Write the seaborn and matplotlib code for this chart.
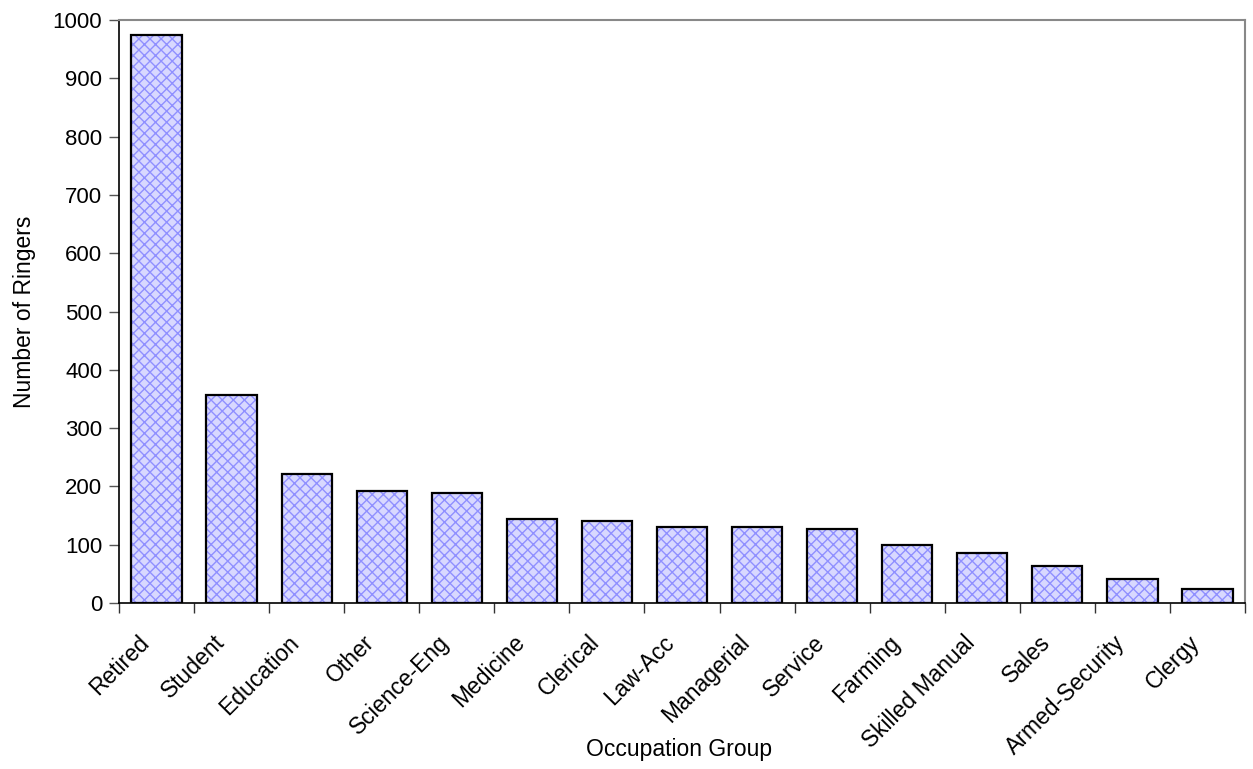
import matplotlib
matplotlib.use("Agg")
import matplotlib.pyplot as plt
import matplotlib.transforms as mtransforms
import seaborn as sns

# Occupation groups and ringer counts
occupations = ["Retired", "Student", "Education", "Other", "Science-Eng",
               "Medicine", "Clerical", "Law-Acc", "Managerial", "Service",
               "Farming", "Skilled Manual", "Sales", "Armed-Security", "Clergy"]
ringers = [975, 356, 222, 192, 188, 144, 140, 131, 130, 127, 99, 86, 63, 41, 24]
y_ticks = [0, 100, 200, 300, 400, 500, 600, 700, 800, 900, 1000]

sns.set_style("white")
plt.rcParams["font.family"] = ["Liberation Sans", "DejaVu Sans"]
plt.rcParams["hatch.linewidth"] = 1.0
plt.rcParams["text.color"] = "black"
plt.rcParams["axes.labelcolor"] = "black"
plt.rcParams["xtick.labelcolor"] = "black"
plt.rcParams["ytick.labelcolor"] = "black"

fig = plt.figure(figsize=(12.53, 7.69), dpi=100)
ax = fig.add_axes([0.095, 0.2159, 0.8986, 0.758])

# hatched fill
sns.barplot(x=occupations, y=ringers, ax=ax, width=0.67,
            color="#d8d8ff", edgecolor="#9090ff", linewidth=0,
            hatch="xxx", saturation=1)
# black outlines
sns.barplot(x=occupations, y=ringers, ax=ax, width=0.67,
            color="black", fill=False, linewidth=1.6, saturation=1)

ax.set_ylim(0, 1000)
ax.set_xlim(-0.5, len(occupations) - 0.5)
ax.set_yticks(y_ticks)
ax.set_yticklabels([str(v) for v in y_ticks], fontsize=16)

# category ticks sit between the bars
ax.set_xticks([i + 0.5 for i in range(-1, len(occupations))], minor=False)
ax.set_xticklabels([])
ax.set_xticks(range(len(occupations)), minor=True)
ax.set_xticklabels(occupations, minor=True, rotation=45, ha="right",
                   rotation_mode="anchor", fontsize=16.5)
ax.tick_params(axis="x", which="minor", length=0, pad=10)
ax.tick_params(axis="x", which="major", length=7, width=1, color="#333333",
               direction="out", bottom=True)
ax.tick_params(axis="y", length=7, width=1, color="#555555",
               direction="out", left=True, pad=5)

# nudge the slanted category labels down and to the left
shift = mtransforms.ScaledTranslation(-0.19, -0.14, fig.dpi_scale_trans)
for lbl in ax.get_xticklabels(minor=True):
    lbl.set_transform(lbl.get_transform() + shift)

for side in ["left", "bottom"]:
    ax.spines[side].set_color("black")
    ax.spines[side].set_linewidth(1.2)
for side in ["top", "right"]:
    ax.spines[side].set_color("#888888")
    ax.spines[side].set_linewidth(1.5)

ax.set_xlabel("Occupation Group", fontsize=16.5)
ax.set_ylabel("Number of Ringers", fontsize=16.5)
ax.xaxis.set_label_coords(0.497, -0.232)
ax.yaxis.set_label_coords(-0.074, 0.5)

fig.savefig("out.png", dpi=100)
